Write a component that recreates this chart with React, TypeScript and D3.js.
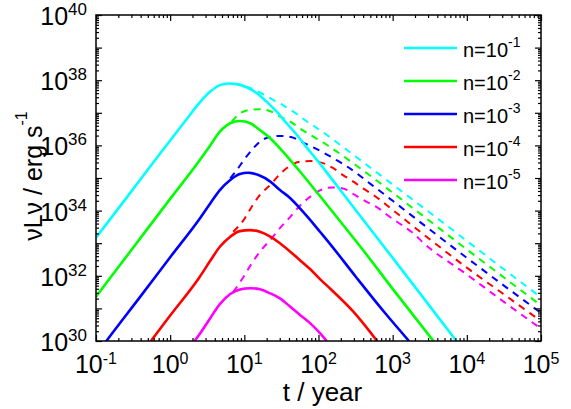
import * as d3 from "d3";
import { useEffect, useRef } from "react";

// [log10 t(year), log10 νLν(erg/s)]
const solidCyan = [[-1, 33.17], [-0.6, 34.36], [-0.2, 35.56], [0.2, 36.74], [0.4, 37.32], [0.54, 37.65], [0.67, 37.85], [0.78, 37.9], [0.9, 37.88], [1.03, 37.78], [1.17, 37.6], [1.3, 37.34], [1.44, 37.03], [1.57, 36.68], [1.71, 36.32], [1.84, 35.94], [1.98, 35.55], [2.5, 34.02], [3.0, 32.55], [3.5, 31.07], [3.86, 30.0]];
const solidGreen = [[-1, 31.36], [-0.5, 32.86], [0, 34.36], [0.4, 35.55], [0.54, 36.0], [0.67, 36.42], [0.81, 36.68], [0.94, 36.75], [1.08, 36.68], [1.21, 36.47], [1.35, 36.22], [1.48, 35.91], [1.62, 35.55], [1.75, 35.2], [2.0, 34.5], [2.3, 33.65], [2.6, 32.79], [3.0, 31.6], [3.55, 30.0]];
const solidBlue = [[-1, 29.57], [-0.86, 30.0], [-0.4, 31.37], [0, 32.57], [0.4, 33.76], [0.54, 34.22], [0.67, 34.63], [0.81, 34.94], [0.94, 35.12], [1.05, 35.16], [1.19, 35.09], [1.35, 34.89], [1.48, 34.63], [1.62, 34.38], [1.75, 34.07], [1.89, 33.71], [2.02, 33.35], [2.13, 33.05], [2.5, 31.98], [2.9, 30.85], [3.22, 30.0]];
const solidRed = [[-0.26, 30.0], [0, 30.78], [0.4, 31.97], [0.54, 32.46], [0.67, 32.89], [0.81, 33.2], [0.94, 33.37], [1.08, 33.4], [1.21, 33.35], [1.35, 33.2], [1.48, 33.0], [1.62, 32.74], [1.75, 32.48], [1.89, 32.2], [2.02, 31.9], [2.17, 31.58], [2.47, 30.9], [2.79, 30.0]];
const solidMagenta = [[0.33, 30.0], [0.4, 30.22], [0.54, 30.7], [0.67, 31.13], [0.81, 31.44], [0.94, 31.58], [1.08, 31.62], [1.21, 31.59], [1.35, 31.46], [1.48, 31.31], [1.62, 31.05], [1.75, 30.8], [1.89, 30.54], [2.02, 30.24], [2.11, 30.0]];

const dashCyan = [[0.85, 37.89], [0.97, 37.84], [1.08, 37.76], [1.23, 37.6], [1.37, 37.42], [1.53, 37.22], [1.71, 36.96], [1.84, 36.74], [2.0, 36.5], [2.5, 35.66], [3.0, 34.8], [3.5, 33.94], [4.0, 33.07], [4.5, 32.2], [5.0, 31.34]];
const dashGreen = [[0.83, 36.73], [0.94, 36.98], [1.08, 37.09], [1.23, 37.11], [1.37, 37.03], [1.48, 36.88], [1.62, 36.73], [1.75, 36.52], [1.89, 36.32], [2.02, 36.15], [2.13, 35.99], [2.5, 35.4], [3.0, 34.55], [3.5, 33.68], [4.0, 32.81], [4.5, 31.95], [5.0, 31.09]];
const dashBlue = [[0.81, 34.99], [0.9, 35.25], [1.01, 35.6], [1.12, 35.91], [1.23, 36.15], [1.35, 36.26], [1.48, 36.29], [1.64, 36.25], [1.77, 36.11], [1.93, 35.94], [2.09, 35.75], [2.25, 35.54], [2.38, 35.36], [2.7, 34.82], [3.0, 34.3], [3.5, 33.42], [4.0, 32.55], [4.5, 31.7], [5.0, 30.86]];
const dashRed = [[0.85, 33.35], [0.99, 33.71], [1.1, 34.12], [1.21, 34.48], [1.35, 34.79], [1.48, 35.12], [1.62, 35.38], [1.75, 35.5], [1.89, 35.52], [2.07, 35.45], [2.2, 35.3], [2.33, 35.09], [2.47, 34.89], [2.6, 34.68], [2.74, 34.48], [3.0, 34.02], [3.5, 33.12], [4.0, 32.25], [4.5, 31.43], [5.0, 30.61]];
const dashMagenta = [[0.85, 31.5], [0.99, 31.97], [1.1, 32.38], [1.21, 32.74], [1.35, 33.1], [1.48, 33.46], [1.62, 33.81], [1.75, 34.15], [1.89, 34.43], [2.02, 34.62], [2.18, 34.71], [2.33, 34.68], [2.49, 34.48], [2.65, 34.27], [2.81, 34.07], [2.96, 33.81], [3.12, 33.56], [3.28, 33.3], [3.41, 33.02], [4.0, 32.04], [4.5, 31.2], [5.0, 30.38]];

const densityExps = ["-1", "-2", "-3", "-4", "-5"];
const colors = ["#00ffff", "#00ff00", "#0000ff", "#ff0000", "#ff00ff"];
const solidSeries = [solidCyan, solidGreen, solidBlue, solidRed, solidMagenta];
const dashedSeries = [dashCyan, dashGreen, dashBlue, dashRed, dashMagenta];

const xTickExps = [-1, 0, 1, 2, 3, 4, 5];
const yTickExps = [30, 31, 32, 33, 34, 35, 36, 37, 38, 39, 40];
const yLabelExps = [30, 32, 34, 36, 38, 40];

const W = 571;
const H = 409;
const margin = { top: 15, right: 30, bottom: 68, left: 96 };
const FONT = "'Liberation Sans', Arial, sans-serif";

const App = () => {
  const ref = useRef<SVGSVGElement>(null);

  useEffect(() => {
    const svg = d3.select(ref.current);
    svg.selectAll("*").remove();

    const x = d3.scaleLog().domain([1e-1, 1e5]).range([margin.left, W - margin.right]);
    const y = d3.scaleLog().domain([1e30, 1e40]).range([H - margin.bottom, margin.top]);
    const x0 = margin.left, x1 = W - margin.right, y0 = H - margin.bottom, y1 = margin.top;

    svg.append("defs").append("clipPath").attr("id", "plot-clip")
      .append("rect").attr("x", x0).attr("y", y1).attr("width", x1 - x0).attr("height", y0 - y1);

    const line = d3.line<number[]>()
      .x((d) => x(Math.pow(10, d[0])))
      .y((d) => y(Math.pow(10, d[1])))
      .curve(d3.curveMonotoneX);

    const plot = svg.append("g").attr("clip-path", "url(#plot-clip)");

    // Dashed curves
    dashedSeries.forEach((s, i) => {
      plot.append("path").attr("d", line(s)).attr("fill", "none")
        .attr("stroke", colors[i]).attr("stroke-width", 2).attr("stroke-dasharray", "7,6");
    });
    // Solid curves
    solidSeries.forEach((s, i) => {
      plot.append("path").attr("d", line(s)).attr("fill", "none")
        .attr("stroke", colors[i]).attr("stroke-width", 2.6);
    });

    // Ticks (inward, all four sides)
    const xMajor = xTickExps.map((e) => Math.pow(10, e));
    const yMajor = yTickExps.map((e) => Math.pow(10, e));
    const xMinor: number[] = [];
    xTickExps.slice(0, -1).forEach((e) => { for (let m = 2; m <= 9; m++) xMinor.push(m * Math.pow(10, e)); });
    const yMinor: number[] = [];
    yTickExps.slice(0, -1).forEach((e) => { for (let m = 2; m <= 9; m++) yMinor.push(m * Math.pow(10, e)); });

    const axes: [any, string][] = [
      [d3.axisBottom(x).tickValues(xMajor).tickSize(-6), `translate(0,${y0})`],
      [d3.axisBottom(x).tickValues(xMinor).tickSize(-3), `translate(0,${y0})`],
      [d3.axisTop(x).tickValues(xMajor).tickSize(-6), `translate(0,${y1})`],
      [d3.axisTop(x).tickValues(xMinor).tickSize(-3), `translate(0,${y1})`],
      [d3.axisLeft(y).tickValues(yMajor).tickSize(-6), `translate(${x0},0)`],
      [d3.axisLeft(y).tickValues(yMinor).tickSize(-3), `translate(${x0},0)`],
      [d3.axisRight(y).tickValues(yMajor).tickSize(-6), `translate(${x1},0)`],
      [d3.axisRight(y).tickValues(yMinor).tickSize(-3), `translate(${x1},0)`],
    ];
    axes.forEach(([ax, tr]) => {
      const g = svg.append("g").attr("transform", tr).call(ax.tickFormat(() => ""));
      g.select(".domain").remove();
      g.selectAll("line").attr("stroke", "#000").attr("stroke-width", 1.2);
    });

    // Frame
    svg.append("rect").attr("x", x0).attr("y", y1).attr("width", x1 - x0).attr("height", y0 - y1)
      .attr("fill", "none").attr("stroke", "#000").attr("stroke-width", 1.5);

    // X tick labels
    xTickExps.forEach((e) => {
      const t = svg.append("text").attr("x", x(Math.pow(10, e))).attr("y", y0 + 32)
        .attr("text-anchor", "middle").attr("font-family", FONT).attr("font-size", 25);
      t.append("tspan").text("10");
      t.append("tspan").attr("dy", -9).attr("font-size", 16).text(String(e));
    });

    // Y tick labels
    yLabelExps.forEach((e) => {
      const t = svg.append("text").attr("x", x0 - 9).attr("y", y(Math.pow(10, e)) + 10)
        .attr("text-anchor", "end").attr("font-family", FONT).attr("font-size", 25);
      t.append("tspan").text("10");
      t.append("tspan").attr("dy", -10).attr("font-size", 17).text(String(e));
    });

    // Axis titles
    svg.append("text").attr("x", (x0 + x1) / 2 + 4).attr("y", 401).attr("text-anchor", "middle")
      .attr("font-family", FONT).attr("font-size", 26).text("t / year");
    const yt = svg.append("text").attr("transform", `translate(42,${(y0 + y1) / 2 - 2}) rotate(-90)`)
      .attr("text-anchor", "middle").attr("font-family", FONT).attr("font-size", 25);
    yt.append("tspan").text("νLν / erg s");
    yt.append("tspan").attr("dy", -15).attr("font-size", 16).text("-1");

    // Legend
    densityExps.forEach((e, i) => {
      const ly = 48 + i * 33;
      svg.append("line").attr("x1", 404).attr("x2", 457).attr("y1", ly).attr("y2", ly)
        .attr("stroke", colors[i]).attr("stroke-width", 2.6);
      const t = svg.append("text").attr("x", 463).attr("y", ly + 9)
        .attr("font-family", FONT).attr("font-size", 20);
      t.append("tspan").text("n=10");
      t.append("tspan").attr("dy", -10).attr("font-size", 14).text(e);
    });
  }, []);

  return (
    <svg ref={ref} width={W} height={H}
      style={{ position: "absolute", left: 0, top: 0, background: "#fff", display: "block" }} />
  );
};

export default App;
